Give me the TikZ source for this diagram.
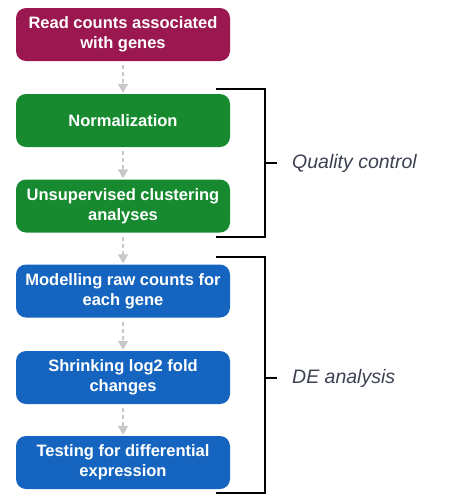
\documentclass[tikz,border=0pt]{standalone}
\usepackage{fontspec}
\setmainfont{Liberation Sans}
\usetikzlibrary{arrows.meta}

\definecolor{readcol}{HTML}{9A1750}
\definecolor{qccol}{HTML}{178A2F}
\definecolor{decol}{HTML}{1565C0}
\definecolor{labelcol}{HTML}{3B4150}
\definecolor{flowcol}{HTML}{C8C8C8}

\tikzset{
	stepbox/.style={rectangle, rounded corners=10pt, minimum width=214pt, minimum height=53pt,
		align=center, text=white, inner sep=0pt,
		font=\bfseries\fontsize{16.5}{20}\selectfont},
	flow/.style={draw=flowcol, line width=2pt, dash pattern=on 4pt off 3pt,
		shorten <=4pt, shorten >=1pt, -{Triangle[width=10pt,length=9pt,fill=flowcol,sep=0pt]}},
	bracket/.style={draw=black, line width=1.6pt},
	grouplabel/.style={anchor=west, text=labelcol, inner sep=0pt, font=\itshape\fontsize{19.5}{22}\selectfont}
}

\begin{document}
\begin{tikzpicture}[x=1pt,y=-1pt]
	\useasboundingbox (0,0) rectangle (473,501);
	% steps of the workflow
	\node[stepbox, fill=readcol] (read) at (123,34.5) {Read counts associated\\with genes};
	\node[stepbox, fill=qccol] (norm) at (123,120.5) {Normalization};
	\node[stepbox, fill=qccol] (clust) at (123,206) {Unsupervised clustering\\analyses};
	\node[stepbox, fill=decol] (model) at (123,291) {Modelling raw counts for\\each gene};
	\node[stepbox, fill=decol] (shrink) at (123,377.5) {Shrinking log2 fold\\changes};
	\node[stepbox, fill=decol] (test) at (123,462.5) {Testing for differential\\expression};

	\draw[flow] (read.south) -- (norm.north);
	\draw[flow] (norm.south) -- (clust.north);
	\draw[flow] (clust.south) -- (model.north);
	\draw[flow] (model.south) -- (shrink.north);
	\draw[flow] (shrink.south) -- (test.north);

	% groups
	\node[grouplabel] (qc) at (292,163) {Quality control};
	\node[grouplabel] (de) at (292,378) {DE analysis};

	\coordinate (qctop) at (216,89);
	\coordinate (qcbot) at (216,237);
	\coordinate (qcmid) at (265,163);
	\draw[bracket] (qctop) -| (qcmid) |- (qcbot);
	\draw[bracket] (qcmid) -- ([xshift=-15pt]qc.west);

	\coordinate (detop) at (216,257);
	\coordinate (debot) at (216,493);
	\coordinate (demid) at (265,378);
	\draw[bracket] (detop) -| (demid) |- (debot);
	\draw[bracket] (demid) -- ([xshift=-15pt]de.west);
\end{tikzpicture}
\end{document}
